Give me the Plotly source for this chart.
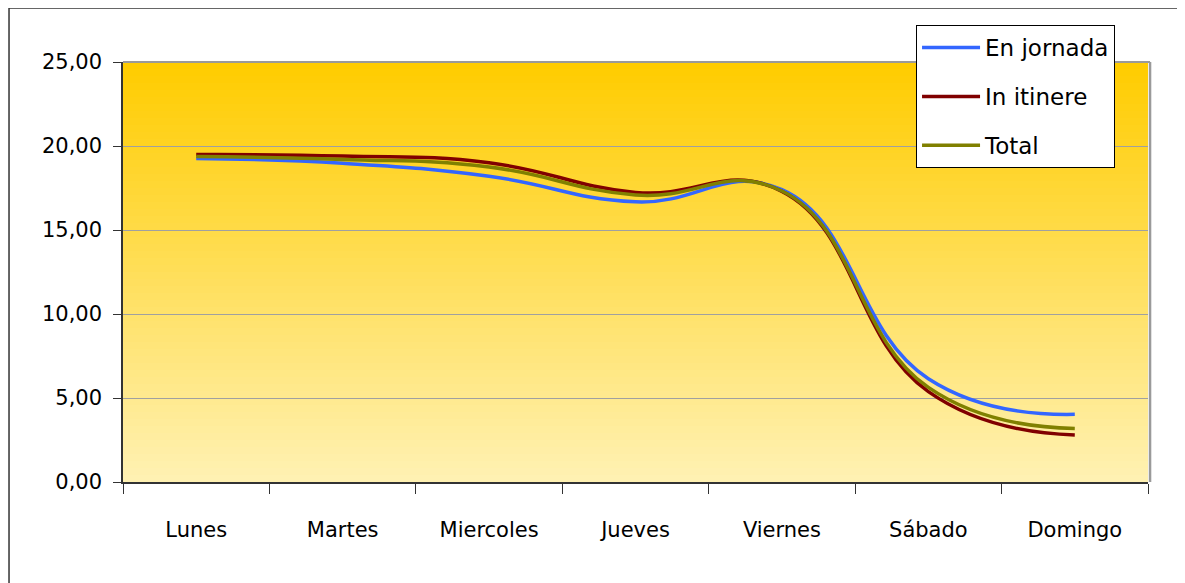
import plotly.graph_objects as go

dias = ["Lunes", "Martes", "Miercoles", "Jueves", "Viernes", "Sábado", "Domingo"]
en_jornada = [19.26, 18.97, 18.20, 16.68, 17.40, 6.15, 4.03]
in_itinere = [19.49, 19.40, 19.00, 17.24, 17.30, 5.38, 2.80]
total = [19.37, 19.20, 18.75, 17.08, 17.32, 5.63, 3.19]

series = [
    ("En jornada", en_jornada, "#3366FF"),
    ("In itinere", in_itinere, "#800000"),
    ("Total", total, "#808000"),
]

fig = go.Figure()
for i, (name, vals, col) in enumerate(series):
    fig.add_trace(go.Scatter(
        x=dias, y=vals, name=name, mode="lines",
        line=dict(color=col, width=3.5, shape="spline", smoothing=1.3),
        legendgroup=f"g{i}",
    ))

# gradient background strips
shapes = []
n = 60
top = (255, 204, 0)
bot = (255, 241, 178)
for k in range(n):
    t = k / (n - 1)
    c = tuple(round(top[j] + (bot[j] - top[j]) * t) for j in range(3))
    shapes.append(dict(type="rect", xref="x domain", yref="y domain",
                       x0=0, x1=1, y0=1 - (k + 1) / n, y1=1 - k / n,
                       fillcolor="rgb(%d,%d,%d)" % c, line=dict(width=0),
                       layer="below"))
# plot area gray top/right border
shapes.append(dict(type="line", xref="paper", yref="paper", x0=0, x1=1.002, y0=1, y1=1,
                   line=dict(color="#9a9a9a", width=2)))
shapes.append(dict(type="line", xref="paper", yref="paper", x0=1.002, x1=1.002, y0=0, y1=1,
                   line=dict(color="#9a9a9a", width=2.5)))
# outer chart border (left and top)
shapes.append(dict(type="line", xref="paper", yref="paper", x0=-0.1112, x1=-0.1112, y0=-0.3, y1=1.1286,
                   line=dict(color="#333333", width=1.5)))
shapes.append(dict(type="line", xref="paper", yref="paper", x0=-0.1112, x1=1.1, y0=1.1286, y1=1.1286,
                   line=dict(color="#333333", width=1.5)))

fig.update_layout(
    width=1177, height=575,
    margin=dict(l=115, r=37, t=54, b=101),
    paper_bgcolor="white",
    plot_bgcolor="rgba(0,0,0,0)",
    separators=",.",
    shapes=shapes,
    font=dict(family="DejaVu Sans", size=20, color="black"),
    showlegend=True,
    legend=dict(x=0.7737, y=1.088, xanchor="left", yanchor="top",
                bgcolor="white", bordercolor="black", borderwidth=1,
                font=dict(family="DejaVu Sans", size=23, color="black"),
                itemwidth=58, tracegroupgap=16, traceorder="grouped"),
)
fig.update_xaxes(
    type="category", range=[-0.5, 6.5],
    showgrid=False, showline=True, linecolor="#333333", linewidth=1.5,
    ticks="outside", tickson="boundaries", ticklen=10, tickcolor="#333333",
    ticklabelstandoff=28, tickfont=dict(family="DejaVu Sans", size=21),
    zeroline=False,
)
fig.update_yaxes(
    range=[0, 25], dtick=5, tickformat=".2f",
    showgrid=True, gridcolor="#a0a0a0", gridwidth=1,
    showline=True, linecolor="#333333", linewidth=1.5,
    ticks="outside", ticklen=8, tickcolor="#333333",
    ticklabelstandoff=7, tickfont=dict(family="DejaVu Sans", size=21),
    zeroline=False,
)

fig.write_html("out.html")
